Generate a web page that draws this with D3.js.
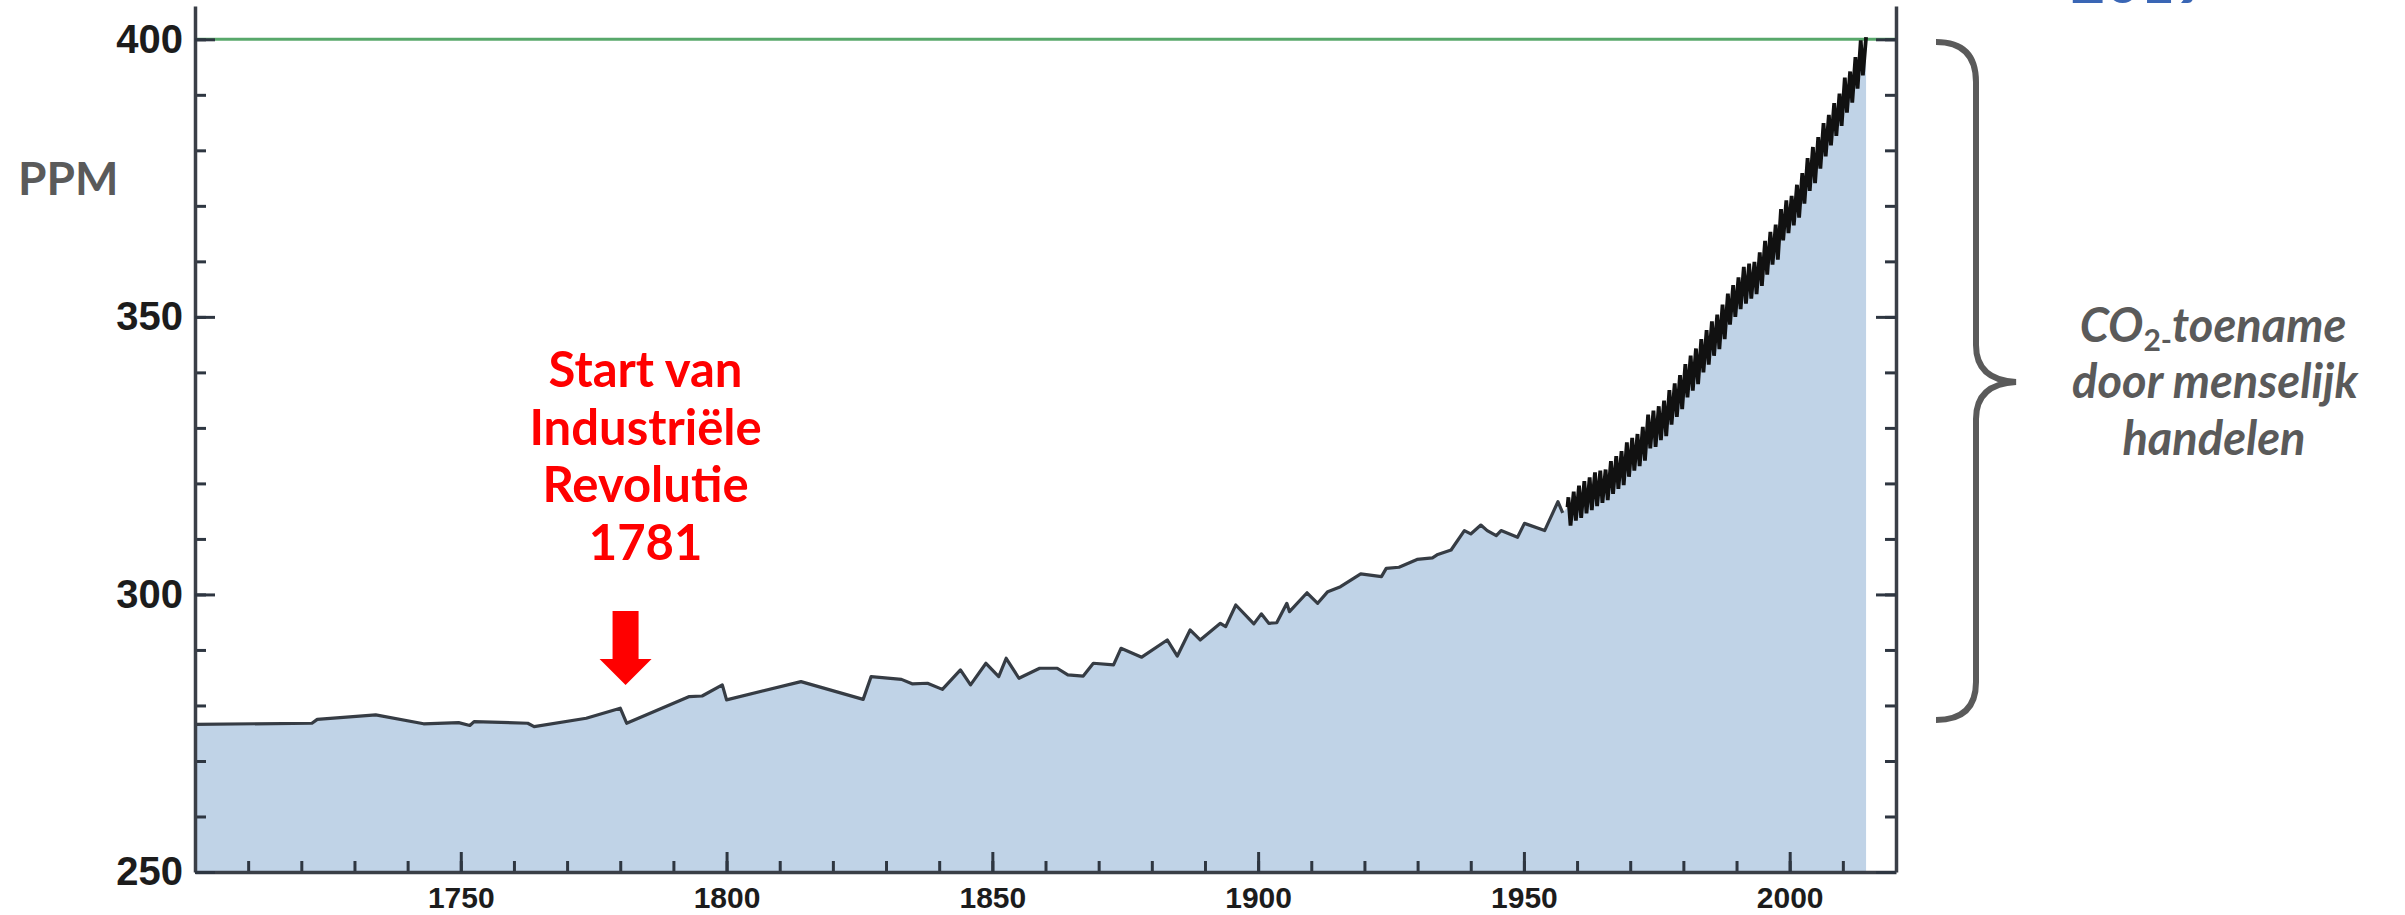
<!DOCTYPE html>
<html>
<head>
<meta charset="utf-8">
<style>
  body { margin: 0; background: #fff; }
  .tick text { font-family: "Liberation Sans", Arial, sans-serif; font-weight: bold; fill: #1c1c1c; }
  .domain { stroke: #3a3f47; stroke-width: 3.5; }
  .tick line { stroke: #2e3641; stroke-width: 3; }
  .note { font-family: Lato, "DejaVu Sans", sans-serif; font-weight: 700; }
</style>
<script src="https://cdn.jsdelivr.net/npm/d3@7"></script>
</head>
<body>
<svg width="2405" height="915"></svg>
<script>
// ice core record (year, ppm)
var iceYears = [1700, 1722, 1723, 1734, 1743, 1749.6, 1751.7, 1752.5, 1762.6, 1763.8, 1773.6, 1780, 1781.2,
    1793, 1795.4, 1799.2, 1800, 1814, 1825.7, 1827.2, 1832.9, 1834.9, 1837.8, 1840.6, 1844, 1845.9, 1848.8,
    1851.2, 1852.6, 1855, 1858.9, 1862.2, 1864.2, 1867.1, 1869, 1872.8, 1874.2, 1878.1, 1882.9, 1884.8,
    1887.2, 1889.1, 1892.9, 1893.9, 1895.8, 1899.2, 1900.6, 1902, 1903.5, 1905.4, 1905.9, 1909.2, 1911.2,
    1913.1, 1915.5, 1919.3, 1923.2, 1924.1, 1926.5, 1929.9, 1932.8, 1933.8, 1936.3, 1938.8, 1940, 1941.9,
    1943.1, 1944.8, 1945.7, 1948.8, 1950.1, 1953.9, 1956.4, 1957.3];
var icePpm = [276.6, 276.8, 277.5, 278.3, 276.7, 276.9, 276.4, 277.1, 276.8, 276.2, 277.7, 279.5, 276.8,
    281.6, 281.7, 283.7, 281.0, 284.3, 281.1, 285.2, 284.7, 283.9, 284.0, 282.9, 286.4, 283.7, 287.6,
    285.2, 288.5, 284.9, 286.7, 286.7, 285.5, 285.3, 287.6, 287.3, 290.3, 288.7, 291.8, 288.9,
    293.6, 291.8, 294.8, 294.2, 298.1, 294.7, 296.5, 294.8, 294.9, 298.4, 296.9, 300.3, 298.4,
    300.5, 301.4, 303.7, 303.2, 304.7, 304.9, 306.3, 306.6, 307.2, 308.0, 311.5, 310.9, 312.5,
    311.5, 310.6, 311.5, 310.3, 312.8, 311.5, 316.7, 314.7];

// Mauna Loa: first reading, then yearly spring peak and autumn low
var mloStartYear = 1958.2;
var mloStartPpm = 315.7;
var mloYears = d3.range(1958, 2015);
var mloPeak = [317.5, 318.5, 319.6, 320.4, 321.1, 322.0, 322.3, 322.5, 324.0, 324.9, 325.8, 327.4, 328.2,
    328.9, 330.2, 332.4, 333.1, 333.9, 334.9, 336.8, 338.0, 339.5, 341.5, 343.0, 344.3, 346.0, 347.6,
    349.2, 350.4, 352.2, 354.2, 355.7, 357.1, 359.0, 359.6, 359.9, 361.6, 363.7, 365.3, 366.6, 369.4,
    371.0, 371.8, 373.8, 375.9, 378.6, 380.6, 382.4, 384.9, 386.4, 388.5, 390.2, 393.1, 394.2, 396.8,
    399.8, 400.4];
var mloLow = [312.4, 313.3, 313.8, 314.6, 315.2, 315.9, 316.5, 317.0, 318.1, 319.0, 319.7, 321.2, 322.3,
    323.1, 324.1, 326.3, 326.6, 327.8, 328.5, 330.6, 332.0, 333.4, 335.5, 336.7, 337.9, 340.0, 341.4,
    343.0, 344.2, 346.0, 348.6, 350.0, 351.4, 352.4, 353.3, 354.1, 355.6, 357.6, 359.4, 360.3, 363.8,
    365.1, 366.5, 367.9, 370.4, 372.7, 374.1, 376.7, 378.9, 380.9, 382.6, 384.4, 386.8, 388.6, 391.1,
    393.5];

var xMajor = [1750, 1800, 1850, 1900, 1950, 2000];
var yMajor = [250, 300, 350, 400];
var refLevel = 400;
var startYear = 1781;
var noteLines = ["Start van", "Industriële", "Revolutie", "1781"];

var svg = d3.select("svg");

var x = d3.scaleLinear().domain([1700, 2020]).range([195, 1896]);
var y = d3.scaleLinear().domain([250, 406]).range([872, 6]);

var icePts = iceYears.map(function(yr, i) { return [yr, icePpm[i]]; });
var mloPts = [[mloStartYear, mloStartPpm]];
mloYears.forEach(function(yr, i) {
    mloPts.push([yr + 0.37, mloPeak[i]]);
    if (i < mloLow.length) mloPts.push([yr + 0.77, mloLow[i]]);
});

var area = d3.area()
    .x(function(d) { return x(d[0]); })
    .y0(y(250))
    .y1(function(d) { return y(d[1]); });

var line = d3.line()
    .x(function(d) { return x(d[0]); })
    .y(function(d) { return y(d[1]); });

svg.append("path")
    .datum(icePts.concat(mloPts))
    .attr("d", area)
    .attr("fill", "#c0d3e7");

svg.append("line")
    .attr("x1", x(1700)).attr("x2", x(2020))
    .attr("y1", y(refLevel)).attr("y2", y(refLevel))
    .attr("stroke", "#58a86b")
    .attr("stroke-width", 3);

svg.append("path")
    .datum(icePts)
    .attr("d", line)
    .attr("fill", "none")
    .attr("stroke", "#363c44")
    .attr("stroke-width", 3.2)
    .attr("stroke-linejoin", "round");

svg.append("path")
    .datum(mloPts)
    .attr("d", line)
    .attr("fill", "none")
    .attr("stroke", "#111")
    .attr("stroke-width", 3.8);

// axes: minor ticks every 10, major ticks with labels
function minor(g) { g.select(".domain").remove(); }

svg.append("g")
    .attr("transform", "translate(0," + y(250) + ")")
    .call(d3.axisBottom(x).tickValues(d3.range(1710, 2020, 10)).tickSize(-11).tickFormat(""))
    .call(minor);
svg.append("g")
    .attr("transform", "translate(0," + y(250) + ")")
    .call(d3.axisBottom(x).tickValues(xMajor).tickSize(-20).tickSizeOuter(0)
        .tickPadding(15).tickFormat(d3.format("d")))
    .attr("font-size", 30);

svg.append("g")
    .attr("transform", "translate(" + x(1700) + ",0)")
    .call(d3.axisLeft(y).tickValues(d3.range(260, 406, 10)).tickSize(-11).tickFormat(""))
    .call(minor);
svg.append("g")
    .attr("transform", "translate(" + x(1700) + ",0)")
    .call(d3.axisLeft(y).tickValues(yMajor).tickSize(-20).tickSizeOuter(0)
        .tickPadding(12).tickFormat(d3.format("d")))
    .attr("font-size", 40);

svg.append("g")
    .attr("transform", "translate(" + x(2020) + ",0)")
    .call(d3.axisRight(y).tickValues(d3.range(260, 406, 10)).tickSize(-11).tickFormat(""))
    .call(minor);
svg.append("g")
    .attr("transform", "translate(" + x(2020) + ",0)")
    .call(d3.axisRight(y).tickValues(yMajor).tickSize(-20).tickSizeOuter(0).tickFormat(""));

// PPM label
svg.append("text")
    .attr("class", "note")
    .attr("x", 18).attr("y", 195)
    .attr("font-size", 46)
    .attr("font-weight", 900)
    .attr("fill", "#5a5a5a")
    .text("PPM");

// industrial revolution note
var ax = x(startYear);
svg.append("g")
    .selectAll("text")
    .data(noteLines)
    .enter().append("text")
    .attr("class", "note")
    .attr("x", ax + 20)
    .attr("y", function(d, i) { return 387 + i * 57.7; })
    .attr("text-anchor", "middle")
    .attr("font-size", 49)
    .attr("fill", "#ff0000")
    .text(function(d) { return d; });

svg.append("path")
    .attr("d", "M" + (ax - 13) + ",611 H" + (ax + 13) + " V659 H" + (ax + 26) +
        " L" + ax + ",685 L" + (ax - 26) + ",659 H" + (ax - 13) + " Z")
    .attr("fill", "#ff0000");

// brace and its label
svg.append("path")
    .attr("d", "M1936,42 Q1976,42 1976,82 L1976,345 Q1976,380 2016,382 Q1976,384 1976,419 L1976,682 Q1976,720 1936,720")
    .attr("fill", "none")
    .attr("stroke", "#5a5a5a")
    .attr("stroke-width", 6);

var brace = svg.append("text")
    .attr("class", "note")
    .attr("text-anchor", "middle")
    .attr("font-size", 47)
    .attr("font-weight", 900)
    .attr("font-style", "italic")
    .attr("fill", "#5a5a5a");
var l1 = brace.append("tspan").attr("x", 2213).attr("y", 342);
l1.append("tspan").text("CO");
l1.append("tspan").attr("font-size", 30).attr("dy", 9).attr("font-style", "normal").text("2-");
l1.append("tspan").attr("dy", -9).text("toename");
brace.append("tspan").attr("x", 2215).attr("y", 398).text("door menselijk");
brace.append("tspan").attr("x", 2214).attr("y", 455).text("handelen");

// label cut off at the top edge, as in the source image
svg.append("text")
    .attr("x", 2140).attr("y", 3)
    .attr("text-anchor", "middle")
    .attr("font-family", "Lato, sans-serif")
    .attr("font-weight", 700)
    .attr("font-size", 60)
    .attr("fill", "#3a66b5")
    .text("2019");
</script>
</body>
</html>
